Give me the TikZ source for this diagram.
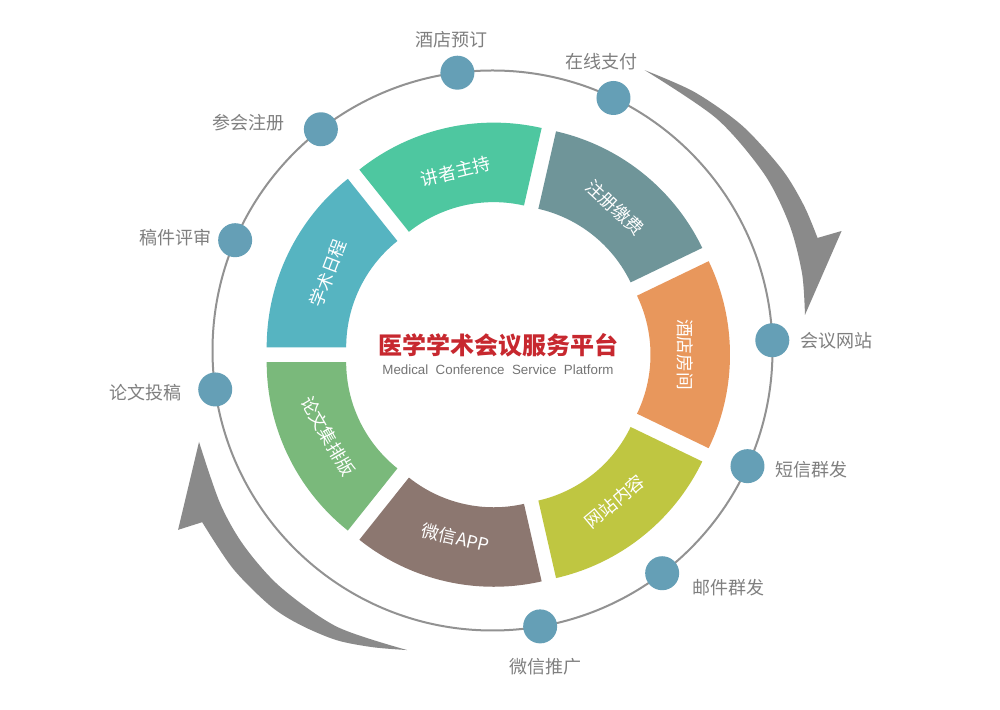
\documentclass[tikz,border=0pt]{standalone}
\usepackage{fontspec}
\setmainfont{Noto Sans CJK SC}
\newfontfamily\cjk{Noto Sans CJK SC}
\newfontfamily\latin{Liberation Sans}
\usetikzlibrary{calc}
\definecolor{cA}{HTML}{56B4C1}
\definecolor{cB}{HTML}{4EC7A0}
\definecolor{cC}{HTML}{6F9599}
\definecolor{cD}{HTML}{E8975C}
\definecolor{cE}{HTML}{BFC641}
\definecolor{cF}{HTML}{8C7770}
\definecolor{cG}{HTML}{7AB97B}
\definecolor{dotblue}{HTML}{659FB6}
\definecolor{ringgray}{HTML}{929292}
\definecolor{arrowgray}{HTML}{8A8A8A}
\definecolor{labelgray}{HTML}{7F7F7F}
\definecolor{titlered}{HTML}{C7282F}
\definecolor{subgray}{HTML}{747474}
\begin{document}
\begin{tikzpicture}[x=0.75pt,y=0.75pt,
  segtxt/.style={text=white,font=\cjk\fontsize{13.3}{15}\selectfont,inner sep=0pt},
  lbl/.style={text=labelgray,font=\cjk\fontsize{13.5}{15}\selectfont,inner sep=0pt},
  dotnode/.style={circle,fill=dotblue,minimum size=25.5pt,inner sep=0pt},
  ringline/.style={draw=ringgray,line width=1.5pt},
  bigarrow/.style={fill=arrowgray,draw=none}]
\fill[white] (0,0) rectangle (1000,710);
\useasboundingbox (0,0) rectangle (1000,710);
\coordinate (C) at (492.5,359.5);
\coordinate (O) at (497.5,355.3);

% curved arrows
\begin{scope}[shift={(C)}]
\fill[bigarrow] plot[smooth] coordinates {(61.5:319) (52:328) (42:336) (32:341.5) (25:343.5) (19.1:344)}
  -- (18.9:369) -- (6.5:314.5)
  -- plot[smooth] coordinates {(6.5:314.5) (14:319) (23:322.5) (33:324) (46:322.5) (61.5:319)} -- cycle;
\fill[bigarrow] plot[smooth] coordinates {(254.1:311.5) (248:320) (241.7:329) (235:335) (229:338.5) (220:339) (210.6:337.3)}
  -- (209.7:362) -- (197.3:307.4)
  -- plot[smooth] coordinates {(197.3:307.4) (209.2:312.3) (218:316) (228:317.7) (240.6:317.1) (254.1:311.5)} -- cycle;
\end{scope}

% outer circle
\draw[ringline] (C) circle[radius=280];

% ring segments
\foreach \b/\col/\txt/\rot [count=\i] in {154.2857/cA/学术日程/69, 102.8571/cB/讲者主持/14, 51.4286/cC/注册缴费/-43, 0/cD/酒店房间/-90, -51.4286/cE/网站内容/40, -102.8571/cF/微信APP/-13, -154.2857/cG/论文集排版/-60}{
  \begin{scope}[shift={($(O)+(\b:17)$)}]
    \fill[\col] (\b-25.7143:215.5) arc[start angle=\b-25.7143, end angle=\b+25.7143, radius=215.5]
      -- (\b+25.7143:136) arc[start angle=\b+25.7143, end angle=\b-25.7143, radius=136] -- cycle;
    \node[segtxt, rotate=\rot] (seg\i) at (\b:171) {\txt};
  \end{scope}
}

% centre title
\node[font=\cjk\bfseries\fontsize{18}{20}\selectfont, text=titlered, inner sep=0pt] (title) at (498,365) {医学学术会议服务平台};
\node[font=\latin\fontsize{10}{12}\selectfont, text=subgray, inner sep=0pt] (subtitle) at (498,340) {Medical\ \ Conference\ \ Service\ \ Platform};

% dots
\foreach \n/\a in {d1/97.2, d2/64.4, d3/127.8, d4/156.8, d5/188.0, d6/2.1, d7/-24.4, d8/-52.7, d9/-80.2}{
  \node[dotnode] (\n) at ($(C)+(\a:280)$) {};
}

% labels
\node[lbl] (l1) at (451.7,670) {酒店预订};
\node[lbl] (l2) at (601.7,648.3) {在线支付};
\node[lbl] (l3) at (248,587.3) {参会注册};
\node[lbl] (l4) at (175,472.3) {稿件评审};
\node[lbl] (l5) at (145,317) {论文投稿};
\node[lbl] (l6) at (836.7,369.3) {会议网站};
\node[lbl] (l7) at (811.7,240) {短信群发};
\node[lbl] (l8) at (728.3,122.7) {邮件群发};
\node[lbl] (l9) at (545,43.3) {微信推广};
\end{tikzpicture}
\end{document}
